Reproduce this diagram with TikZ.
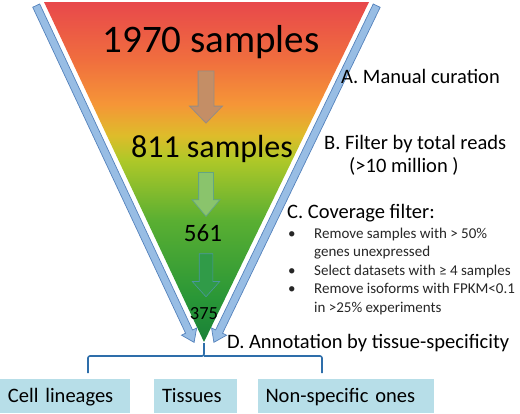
\documentclass[tikz,border=0pt]{standalone}
\usepackage{fontspec}
\setmainfont{Carlito}
\usetikzlibrary{shapes.arrows}
\definecolor{f0}{RGB}{25,128,55}
\definecolor{f1}{RGB}{40,150,55}
\definecolor{f2}{RGB}{90,175,50}
\definecolor{f3}{RGB}{175,200,40}
\definecolor{f4}{RGB}{222,188,42}
\definecolor{f5}{RGB}{245,150,55}
\definecolor{f6}{RGB}{240,110,62}
\definecolor{f7}{RGB}{232,72,75}
\pgfdeclareverticalshading{funnel}{100bp}{color(0bp)=(f0); color(25bp)=(f0); color(31.2bp)=(f1); color(42.9bp)=(f2); color(51.8bp)=(f3); color(55.4bp)=(f4); color(59.9bp)=(f5); color(66.5bp)=(f6); color(75bp)=(f7); color(100bp)=(f7)}
\definecolor{barblue}{RGB}{152,189,228}
\definecolor{barline}{RGB}{84,130,188}
\definecolor{boxblue}{RGB}{183,222,232}
\definecolor{brk}{RGB}{46,110,170}
\tikzset{
  bluebar/.style={single arrow, draw=barline, line width=0.7pt, fill=barblue,
    inner xsep=0pt, inner ysep=3.5pt, single arrow head extend=4.5pt, single arrow tip angle=70},
  downarr/.style={single arrow, rotate=-90, inner xsep=0pt, line width=0.8pt},
  lbl/.style={anchor=base west, inner sep=0pt, font=\fontsize{20.5}{24}\selectfont},
  blt/.style={anchor=base west, inner sep=0pt, font=\fontsize{15}{18}\selectfont, text=black!85},
  num/.style={anchor=base, inner sep=0pt},
  catbox/.style={fill=boxblue, inner xsep=8pt, inner ysep=0pt, text height=13.2pt, text depth=0pt,
    minimum height=34pt, align=left, font=\fontsize{20.5}{24}\selectfont},
  bracket/.style={draw=brk, line width=1.6pt, rounded corners=2pt}
}
\begin{document}
\begin{tikzpicture}[x=1pt,y=-1pt]
\useasboundingbox (0,0) rectangle (520,413);
% funnel
\coordinate (tl) at (44,2);
\coordinate (tr) at (369,2);
\coordinate (apex) at (204,342);
\shade[shading=funnel] (tl) -- (tr) -- (apex) -- cycle;
% side bars
\node[bluebar, minimum height=372pt, rotate=-64.88] (lbar) at (114,171.5) {};
\node[bluebar, minimum height=374pt, rotate=-115.81] (rbar) at (296.5,171.5) {};
% down arrows
\node[downarr, minimum height=52pt, inner ysep=7.5pt, single arrow head extend=8.5pt, single arrow tip angle=88,
  fill={rgb,255:red,196;green,142;blue,102}, draw={rgb,255:red,150;green,140;blue,132}] (d1) at (206,93) {};
\node[downarr, minimum height=44pt, inner ysep=7pt, single arrow head extend=6.5pt, single arrow tip angle=80,
  fill={rgb,255:red,138;green,196;blue,108}, draw={rgb,255:red,100;green,165;blue,130}] (d2) at (206,190) {};
\node[downarr, minimum height=43pt, inner ysep=6.5pt, single arrow head extend=7pt, single arrow tip angle=84,
  line width=0.6pt, fill={rgb,255:red,48;green,155;blue,72}, draw={rgb,255:red,75;green,150;blue,160}] (d3) at (206,271.5) {};
% numbers
\node[num, font=\fontsize{39}{44}\selectfont] (n1) at (211,52) {1970 samples};
\node[num, font=\fontsize{32}{36}\selectfont] (n2) at (212,157) {811 samples};
\node[num, font=\fontsize{25}{28}\selectfont] (n3) at (203,241) {561};
\node[num, font=\fontsize{18.5}{20}\selectfont] (n4) at (204,319) {375};
% right labels
\node[lbl] (la) at (341,83) {A. Manual curation};
\node[lbl] (lb) at (324,149) {B. Filter by total reads};
\node[lbl] (lb2) at (349,172) {(>10 million )};
\node[lbl] (lc) at (287,218) {C. Coverage filter:};
\node[blt] (b1) at (288,238) {\textbullet};
\node[blt] (c1) at (314,238) {Remove samples with > 50\%};
\node[blt] (c2) at (314,256.5) {genes unexpressed};
\node[blt] (b2) at (288,275) {\textbullet};
\node[blt] (c3) at (314,275) {Select datasets with ≥ 4 samples};
\node[blt] (b3) at (288,293.5) {\textbullet};
\node[blt] (c4) at (314,293.5) {Remove isoforms with FPKM<0.1};
\node[blt] (c5) at (314,312) {in >25\% experiments};
\node[lbl] (ld) at (227,348) {D. Annotation by tissue-specificity};
% category boxes
\node[catbox, text width=114pt] (cell) at (65,396) {Cell lineages};
\node[catbox, text width=67pt] (tis) at (195.5,396) {Tissues};
\node[catbox, text width=160pt] (non) at (345.5,396) {Non-specific ones};
% bracket
\coordinate (mid) at (204,356);
\coordinate (bl) at (88,373);
\coordinate (br) at (322,373);
\coordinate (top) at (204,343);
\draw[bracket] (bl) |- (mid) -- (top);
\draw[bracket] (br) |- (mid);
\end{tikzpicture}
\end{document}
